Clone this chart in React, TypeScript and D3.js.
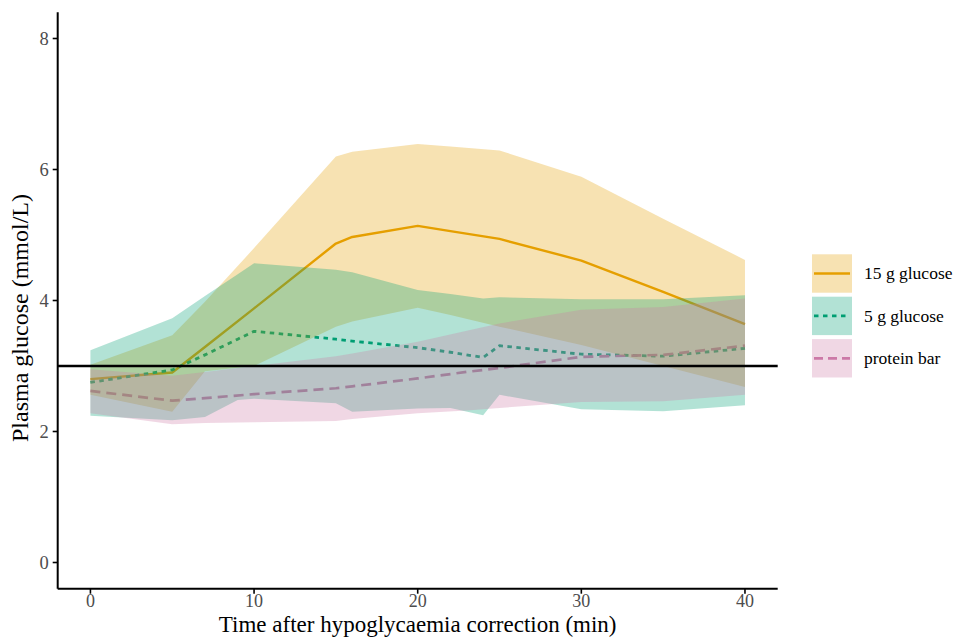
import React from "react";
import * as d3 from "d3";

// ---- data ----
const seriesNames = ["15 g glucose", "5 g glucose", "protein bar"];
const seriesColors = ["#E69F00", "#009E73", "#CC79A7"];

const t15 = [0, 5, 7, 10, 15, 16, 20, 22, 25, 30, 35, 40];
const mean15 = [2.8, 2.9, 3.29, 3.88, 4.87, 4.97, 5.14, 5.06, 4.94, 4.61, 4.13, 3.64];
const upper15 = [3.02, 3.47, 3.98, 4.8, 6.2, 6.27, 6.39, 6.35, 6.29, 5.89, 5.25, 4.62];
const lower15 = [2.56, 2.3, 2.92, 3.0, 3.6, 3.68, 3.89, 3.78, 3.6, 3.32, 3.0, 2.68];

const t5 = [0, 5, 7, 9, 10, 15, 16, 20, 22, 24, 25, 30, 35, 40];
const mean5 = [2.75, 2.94, 3.17, 3.41, 3.53, 3.41, 3.38, 3.28, 3.21, 3.13, 3.31, 3.18, 3.15, 3.27];
const upper5 = [3.24, 3.73, 4.07, 4.4, 4.57, 4.47, 4.43, 4.16, 4.1, 4.03, 4.05, 4.02, 4.02, 4.08];
const lower5 = [2.24, 2.17, 2.22, 2.48, 2.5, 2.43, 2.3, 2.35, 2.36, 2.25, 2.56, 2.34, 2.31, 2.4];

const tP = [0, 5, 7, 10, 15, 16, 20, 23, 25, 30, 35, 40];
const meanP = [2.62, 2.47, 2.51, 2.57, 2.66, 2.69, 2.81, 2.91, 2.97, 3.14, 3.17, 3.31];
const upperP = [2.95, 2.85, 2.91, 3.0, 3.15, 3.19, 3.37, 3.54, 3.65, 3.86, 3.9, 4.03];
const lowerP = [2.28, 2.11, 2.13, 2.14, 2.16, 2.19, 2.28, 2.32, 2.36, 2.45, 2.46, 2.56];

const xTicks = [0, 10, 20, 30, 40];
const yTicks = [0, 2, 4, 6, 8];
const threshold = 3;

const xTitle = "Time after hypoglycaemia correction (min)";
const yTitle = "Plasma glucose (mmol/L)";

// ---- layout ----
const W = 954;
const H = 637;
const FONT = "'Liberation Serif', 'Times New Roman', serif";

const x = d3.scaleLinear().domain([-2, 42]).range([57.7, 777.7]);
const y = d3.scaleLinear().domain([-0.4, 8.4]).range([588.7, 12.3]);

type S = { t: number[]; m: number[]; lo: number[]; hi: number[] };
const series: S[] = [
  { t: t15, m: mean15, lo: lower15, hi: upper15 },
  { t: t5, m: mean5, lo: lower5, hi: upper5 },
  { t: tP, m: meanP, lo: lowerP, hi: upperP },
];
const dashes = [undefined, "4.5 4.5", "10 6"];
const widths = [2.4, 2.8, 2.7];
const keyDashes = [undefined, "4.5 4.5", "9 5"];

function linePath(s: S) {
  const pts = s.t.map((t, i) => [t, s.m[i]] as [number, number]);
  return d3
    .line<[number, number]>()
    .x((d) => x(d[0]))
    .y((d) => y(d[1]))(pts) as string;
}
function areaPath(s: S) {
  const pts = s.t.map((t, i) => [t, s.lo[i], s.hi[i]] as [number, number, number]);
  return d3
    .area<[number, number, number]>()
    .x((d) => x(d[0]))
    .y0((d) => y(d[1]))
    .y1((d) => y(d[2]))(pts) as string;
}

export default function App() {
  const [x0, x1] = x.range();
  const [yb, yt] = y.range();
  const keyX = 812;
  const keyW = 40;
  const keyH = 38.4;
  const keyY0 = 254.3;
  const keyStep = 42.4;
  return (
    <svg
      width={W}
      height={H}
      viewBox={`0 0 ${W} ${H}`}
      style={{ position: "absolute", left: 0, top: 0, background: "#fff" }}
    >
      <rect x={0} y={0} width={W} height={H} fill="#fff" />
      {/* mean lines (drawn under ribbons) */}
      {series.map((s, i) => (
        <path
          key={"l" + i}
          d={linePath(s)}
          fill="none"
          stroke={seriesColors[i]}
          strokeWidth={widths[i]}
          strokeDasharray={dashes[i]}
          strokeLinejoin="round"
        />
      ))}
      {/* ribbons */}
      {series.map((s, i) => (
        <path key={"a" + i} d={areaPath(s)} fill={seriesColors[i]} fillOpacity={0.3} stroke="none" />
      ))}
      {/* threshold */}
      <line x1={x0} x2={x1} y1={y(threshold)} y2={y(threshold)} stroke="#000" strokeWidth={2.4} />
      {/* axes */}
      <line x1={x0} x2={x0} y1={yb} y2={yt} stroke="#000" strokeWidth={2} />
      <line x1={x0} x2={x1} y1={yb} y2={yb} stroke="#000" strokeWidth={2} />
      {yTicks.map((v) => (
        <g key={"yt" + v}>
          <line x1={x0 - 5} x2={x0} y1={y(v)} y2={y(v)} stroke="#000" strokeWidth={1.6} />
          <text
            x={x0 - 9}
            y={y(v)}
            dy="0.35em"
            textAnchor="end"
            fontFamily={FONT}
            fontSize={18.5}
            fill="#4D4D4D"
          >
            {v}
          </text>
        </g>
      ))}
      {xTicks.map((v) => (
        <g key={"xt" + v}>
          <line x1={x(v)} x2={x(v)} y1={yb} y2={yb + 5} stroke="#000" strokeWidth={1.6} />
          <text
            x={x(v)}
            y={yb + 18}
            textAnchor="middle"
            fontFamily={FONT}
            fontSize={18}
            fill="#4D4D4D"
          >
            {v}
          </text>
        </g>
      ))}
      <text x={(x0 + x1) / 2} y={631.5} textAnchor="middle" fontFamily={FONT} fontSize={23} fill="#000">
        {xTitle}
      </text>
      <text
        transform={`translate(28,${318}) rotate(-90)`}
        textAnchor="middle"
        fontFamily={FONT}
        fontSize={24}
        fill="#000"
      >
        {yTitle}
      </text>
      {/* legend */}
      {seriesNames.map((name, i) => {
        const ky = keyY0 + i * keyStep;
        return (
          <g key={"lg" + i}>
            <rect x={keyX} y={ky} width={keyW} height={keyH} fill={seriesColors[i]} fillOpacity={0.3} />
            <line
              x1={keyX + 2}
              x2={keyX + keyW - 2}
              y1={ky + keyH / 2}
              y2={ky + keyH / 2}
              stroke={seriesColors[i]}
              strokeWidth={widths[i]}
              strokeDasharray={keyDashes[i]}
            />
            <text
              x={864}
              y={ky + keyH / 2}
              dy="0.33em"
              fontFamily={FONT}
              fontSize={17.5}
              fill="#000"
            >
              {name}
            </text>
          </g>
        );
      })}
    </svg>
  );
}
